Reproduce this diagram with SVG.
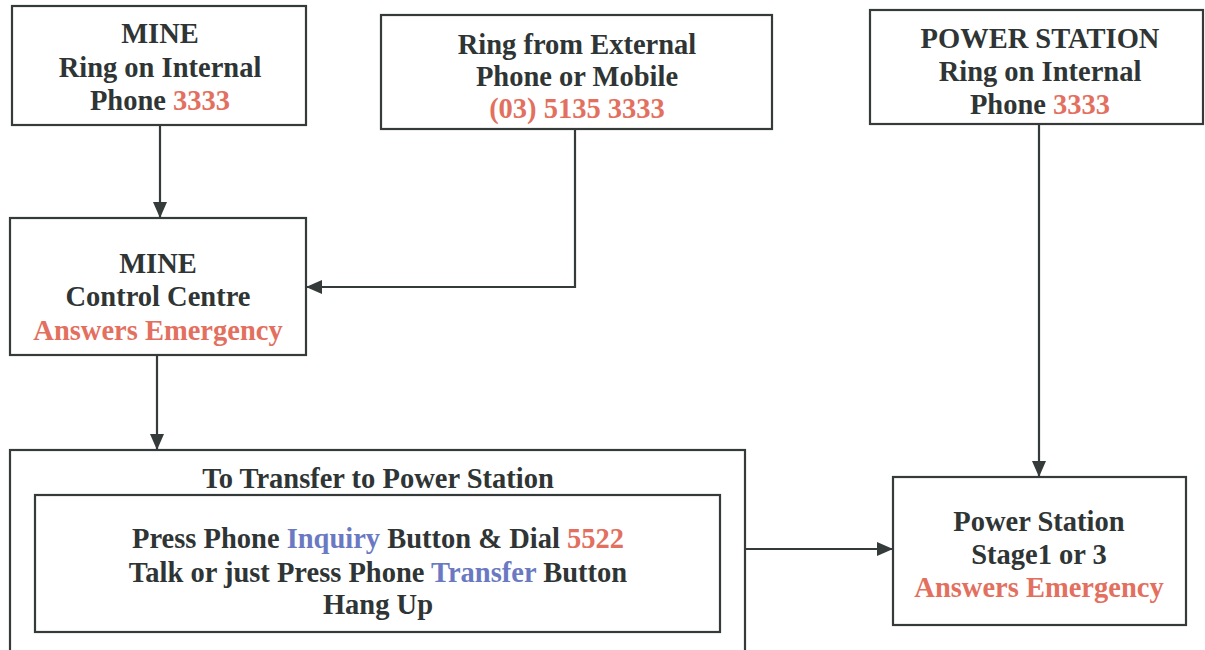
<svg xmlns="http://www.w3.org/2000/svg" width="1205" height="650" viewBox="0 0 1205 650">
<defs>
<style>
.box{fill:#fff;stroke:#353a3a;stroke-width:2.2}
.t{font-family:"Liberation Serif","Times New Roman",serif;font-weight:bold;font-size:28.5px;fill:#2f3535;text-anchor:middle}
.r{fill:#e3705f}
.b{fill:#6b79c2}
.c{fill:none;stroke:#353a3a;stroke-width:2.2}
</style>
<marker id="ah" markerWidth="16" markerHeight="14" refX="15" refY="7" orient="auto" markerUnits="userSpaceOnUse">
<path d="M0,0 L16,7 L0,14 Z" fill="#353a3a"/>
</marker>
</defs>
<rect width="1205" height="650" fill="#fff"/>
<g id="connectors">
<path class="c" d="M160,125 V217" marker-end="url(#ah)"/>
<path class="c" d="M575,129 V287 H307" marker-end="url(#ah)"/>
<path class="c" d="M1039,124 V476" marker-end="url(#ah)"/>
<path class="c" d="M157,355 V449" marker-end="url(#ah)"/>
<path class="c" d="M745,549 H892" marker-end="url(#ah)"/>
</g>
<g id="mine-internal">
<rect class="box" x="12" y="6" width="294" height="119"/>
<text class="t" x="160" y="43">MINE</text>
<text class="t" x="160" y="77">Ring on Internal</text>
<text class="t" x="160" y="110">Phone <tspan class="r">3333</tspan></text>
</g>
<g id="external">
<rect class="box" x="381" y="15" width="391" height="114"/>
<text class="t" x="577" y="54">Ring from External</text>
<text class="t" x="577" y="86">Phone or Mobile</text>
<text class="t r" x="577" y="118">(03) 5135 3333</text>
</g>
<g id="power-internal">
<rect class="box" x="870" y="10" width="333" height="114"/>
<text class="t" x="1040" y="48">POWER STATION</text>
<text class="t" x="1040" y="81">Ring on Internal</text>
<text class="t" x="1040" y="114">Phone <tspan class="r">3333</tspan></text>
</g>
<g id="mine-control">
<rect class="box" x="10" y="218" width="296" height="137"/>
<text class="t" x="158" y="273">MINE</text>
<text class="t" x="158" y="306">Control Centre</text>
<text class="t r" x="158" y="340">Answers Emergency</text>
</g>
<g id="transfer">
<rect class="box" x="10" y="450" width="735" height="215"/>
<text class="t" x="378" y="488">To Transfer to Power Station</text>
<rect class="box" x="35" y="495" width="685" height="137"/>
<text class="t" x="378" y="548">Press Phone <tspan class="b">Inquiry</tspan> Button &amp; Dial <tspan class="r">5522</tspan></text>
<text class="t" x="378" y="582">Talk or just Press Phone <tspan class="b">Transfer</tspan> Button</text>
<text class="t" x="378" y="614">Hang Up</text>
</g>
<g id="power-answers">
<rect class="box" x="893" y="477" width="293" height="148"/>
<text class="t" x="1039" y="531">Power Station</text>
<text class="t" x="1039" y="564">Stage1 or 3</text>
<text class="t r" x="1039" y="597">Answers Emergency</text>
</g>
</svg>
